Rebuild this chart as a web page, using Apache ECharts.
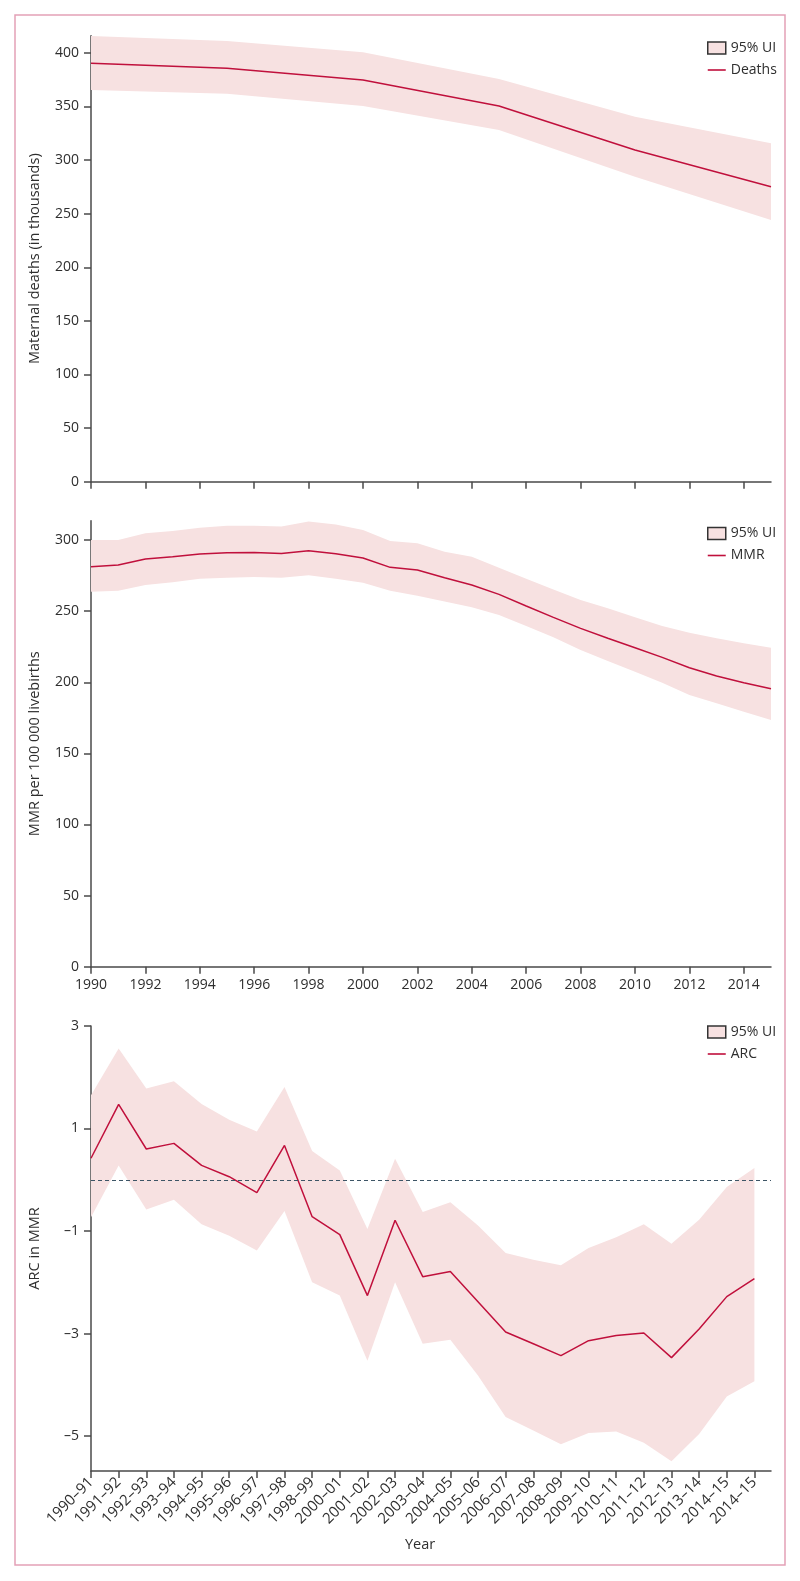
<!DOCTYPE html>
<html>
<head>
<meta charset="utf-8">
<script src="https://cdn.jsdelivr.net/npm/echarts@6/dist/echarts.min.js"></script>
<style>
html,body{margin:0;padding:0;background:#fff;}
#c{width:800px;height:1581px;}
</style>
</head>
<body>
<div id="c"></div>
<script>
// ---- Data ----
const DEATH_YEARS = [1990, 1995, 2000, 2005, 2010, 2015];
const DEATHS      = [390.3, 385.6, 374.7, 350.5, 309.4, 275.2];
const DEATHS_UP   = [415.8, 411.0, 400.6, 375.7, 340.5, 315.7];
const DEATHS_LO   = [365.4, 361.8, 350.5, 328.0, 284.5, 244.0];

const MMR_YEARS = [1990,1991,1992,1993,1994,1995,1996,1997,1998,1999,2000,2001,2002,2003,2004,2005,2006,2007,2008,2009,2010,2011,2012,2013,2014,2015];
const MMR    = [281.2,282.4,286.7,288.3,290.2,291.1,291.3,290.6,292.5,290.4,287.4,280.8,278.9,273.5,268.4,261.8,253.6,245.6,237.9,230.9,224.3,217.5,210.2,204.4,199.7,195.5];
const MMR_UP = [300.0,300.0,304.7,306.3,308.7,310.0,310.0,309.5,313.1,311.0,307.0,299.3,297.7,291.8,288.3,280.6,272.8,265.3,257.8,252.0,245.7,239.5,234.8,230.9,227.4,224.3];
const MMR_LO = [263.7,264.4,268.4,270.3,272.8,273.5,274.0,273.5,275.2,272.7,270.0,264.4,260.9,256.7,252.7,247.3,239.5,231.6,222.7,215.0,207.4,199.7,191.0,185.2,179.3,173.5];

const ARC_CATS = ['1990–91','1991–92','1992–93','1993–94','1994–95','1995–96','1996–97','1997–98','1998–99','2000–01','2001–02','2002–03','2003–04','2004–05','2005–06','2006–07','2007–08','2008–09','2009–10','2010–11','2011–12','2012–13','2013–14','2014–15','2014–15'];
const ARC    = [0.42,1.47,0.60,0.71,0.28,0.06,-0.25,0.67,-0.72,-1.07,-2.26,-0.79,-1.89,-1.79,-2.38,-2.97,-3.20,-3.43,-3.14,-3.04,-2.99,-3.47,-2.91,-2.28,-1.93];
const ARC_UP = [1.65,2.56,1.78,1.92,1.48,1.17,0.94,1.81,0.56,0.18,-0.96,0.41,-0.63,-0.44,-0.89,-1.43,-1.56,-1.67,-1.33,-1.12,-0.87,-1.25,-0.78,-0.14,0.23];
const ARC_LO = [-0.73,0.28,-0.58,-0.39,-0.87,-1.09,-1.38,-0.61,-2.00,-2.26,-3.53,-2.00,-3.20,-3.12,-3.82,-4.63,-4.89,-5.16,-4.94,-4.91,-5.13,-5.49,-4.96,-4.23,-3.93];

const Y_TICKS_DEATHS = [0,50,100,150,200,250,300,350,400];
const Y_TICKS_MMR = [0,50,100,150,200,250,300];
const Y_TICKS_ARC = [3,1,-1,-3,-5];
const X_TICKS_YEARS = [1990,1992,1994,1996,1998,2000,2002,2004,2006,2008,2010,2012,2014];

// ---- Styles ----
const LINE = '#c0103c';
const BAND = '#f7e1e1';
const AXIS = '#4a4a4a';
const TEXT = '#2e2e2e';
const FONT = 'Open Sans';

const zip = (xs, ys) => xs.map((x, i) => [x, ys[i]]);
const idx = ARC_CATS.map((_, i) => i);

function band(gi, xs, lo, up) {
  return {
    name: '95% UI', type: 'custom', xAxisIndex: gi, yAxisIndex: gi, silent: true, z: 1,
    itemStyle: { color: BAND },
    encode: { x: 0, y: [1, 2] },
    data: xs.map((x, i) => [x, lo[i], up[i]]),
    renderItem: function (params, api) {
      if (params.dataIndex !== 0) return null;
      const pts = [];
      for (let i = 0; i < xs.length; i++) pts.push(api.coord([xs[i], up[i]]));
      for (let i = xs.length - 1; i >= 0; i--) pts.push(api.coord([xs[i], lo[i]]));
      return { type: 'polygon', shape: { points: pts }, style: { fill: BAND, stroke: null } };
    }
  };
}
function mainLine(name, gi, xs, ys, extra) {
  return Object.assign({ name: name, type: 'line', xAxisIndex: gi, yAxisIndex: gi, data: zip(xs, ys),
    symbol: 'none', lineStyle: { color: LINE, width: 1.5 }, itemStyle: { color: LINE }, z: 3 }, extra || {});
}
function legend(top, lineName) {
  return {
    left: 702, top: top, orient: 'vertical', itemWidth: 18, itemHeight: 12, itemGap: 8, selectedMode: false,
    textStyle: { fontFamily: FONT, fontSize: 14, color: TEXT },
    data: [
      { name: '95% UI', icon: 'rect', itemStyle: { color: BAND, borderColor: '#333', borderWidth: 1.5 } },
      { name: lineName, icon: 'path://M0,0H18V1.6H0Z', itemStyle: { color: LINE, borderWidth: 0 } }
    ]
  };
}
const axisLine = { show: true, onZero: false, lineStyle: { color: AXIS, width: 1.5 } };
const labelStyle = { fontFamily: FONT, fontSize: 14, color: TEXT };
const nameStyle = { fontFamily: FONT, fontSize: 14.5, color: TEXT };

const grids = [
  { left: 91, right: 29, top: 35.7, height: 446 },
  { left: 91, right: 29, top: 520.7, height: 446 },
  { left: 91, right: 29, top: 1026, height: 444.9 }
];

const option = {
  animation: false,
  backgroundColor: '#fff',
  graphic: [{ type: 'rect', shape: { x: 15, y: 15, width: 770, height: 1550 },
    style: { fill: 'none', stroke: '#e3a1b7', lineWidth: 1.5 }, silent: true }],
  grid: grids,
  legend: [legend(36, 'Deaths'), legend(521.5, 'MMR'), legend(1020, 'ARC')],
  xAxis: [
    { type: 'value', gridIndex: 0, min: 1990, max: 2015, axisLine: axisLine,
      axisTick: { show: true, length: 7, customValues: X_TICKS_YEARS, lineStyle: { color: AXIS, width: 1.5 } },
      axisLabel: { show: false }, splitLine: { show: false } },
    { type: 'value', gridIndex: 1, min: 1990, max: 2015, axisLine: axisLine,
      axisTick: { show: true, length: 7, customValues: X_TICKS_YEARS, lineStyle: { color: AXIS, width: 1.5 } },
      axisLabel: Object.assign({ customValues: X_TICKS_YEARS, margin: 11, formatter: v => String(v) }, labelStyle),
      splitLine: { show: false } },
    { type: 'value', gridIndex: 2, min: 0, max: 24.6, axisLine: axisLine,
      name: 'Year', nameLocation: 'middle', nameGap: 66,
      nameTextStyle: Object.assign({ padding: [0, 22, 0, 0] }, nameStyle),
      axisTick: { show: true, length: 7, customValues: idx, lineStyle: { color: AXIS, width: 1.5 } },
      axisLabel: Object.assign({ customValues: idx, rotate: 45, margin: 9,
        formatter: v => ARC_CATS[Math.round(v)] || '' }, labelStyle, { fontSize: 15 }),
      splitLine: { show: false } }
  ],
  yAxis: [
    { type: 'value', gridIndex: 0, min: 0, max: 416, axisLine: axisLine,
      name: 'Maternal deaths (in thousands)', nameLocation: 'middle', nameGap: 49, nameTextStyle: nameStyle,
      axisTick: { show: true, length: 7, customValues: Y_TICKS_DEATHS, lineStyle: { color: AXIS, width: 1.5 } },
      axisLabel: Object.assign({ customValues: Y_TICKS_DEATHS, margin: 12 }, labelStyle),
      splitLine: { show: false } },
    { type: 'value', gridIndex: 1, min: 0, max: 313.6, axisLine: axisLine,
      name: 'MMR per 100 000 livebirths', nameLocation: 'middle', nameGap: 49, nameTextStyle: nameStyle,
      axisTick: { show: true, length: 7, customValues: Y_TICKS_MMR, lineStyle: { color: AXIS, width: 1.5 } },
      axisLabel: Object.assign({ customValues: Y_TICKS_MMR, margin: 12 }, labelStyle),
      splitLine: { show: false } },
    { type: 'value', gridIndex: 2, min: -5.68, max: 3, axisLine: axisLine,
      name: 'ARC in MMR', nameLocation: 'middle', nameGap: 49, nameTextStyle: nameStyle,
      axisTick: { show: true, length: 7, customValues: Y_TICKS_ARC, lineStyle: { color: AXIS, width: 1.5 } },
      axisLabel: Object.assign({ customValues: Y_TICKS_ARC, margin: 12,
        formatter: v => (v < 0 ? '–' + Math.abs(v) : String(v)) }, labelStyle),
      splitLine: { show: false } }
  ],
  series: [
    band(0, DEATH_YEARS, DEATHS_LO, DEATHS_UP),
    mainLine('Deaths', 0, DEATH_YEARS, DEATHS),
    band(1, MMR_YEARS, MMR_LO, MMR_UP),
    mainLine('MMR', 1, MMR_YEARS, MMR),
    band(2, idx, ARC_LO, ARC_UP),
    mainLine('ARC', 2, idx, ARC, {
      markLine: { silent: true, symbol: 'none', label: { show: false }, z: 4,
        lineStyle: { color: '#3d5566', width: 1, type: [4, 3] }, data: [{ yAxis: 0 }] }
    })
  ]
};

const chart = echarts.init(document.getElementById('c'), null, { renderer: 'canvas' });
chart.setOption(option);
</script>
</body>
</html>
